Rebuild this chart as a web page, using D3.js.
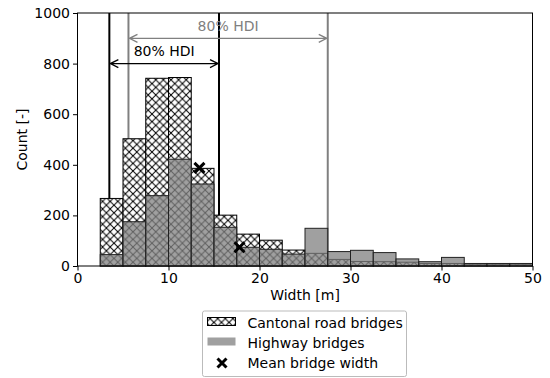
<!DOCTYPE html>
<html>
<head>
<meta charset="utf-8">
<script src="https://cdn.jsdelivr.net/npm/d3@7"></script>
<style>
  body { margin: 0; background: #fff; }
  text { font-family: "DejaVu Sans", sans-serif; }
</style>
</head>
<body>
<div id="chart"></div>
<script>
// bin starts [m], each bin is 2.5 m wide
const binStarts = [2.5, 5, 7.5, 10, 12.5, 15, 17.5, 20, 22.5, 25, 27.5, 30, 32.5, 35, 37.5, 40, 42.5, 45, 47.5]
const binWidth = 2.5
const cantonalCounts = [267, 503, 742, 745, 386, 201, 126, 102, 63, 50, 26, 18, 17, 15, 10, 10, 7, 7, 7]
const highwayCounts = [45, 175, 278, 422, 324, 153, 74, 66, 47, 149, 57, 62, 53, 28, 17, 34, 10, 10, 10]
const means = [{x: 13.4, y: 388}, {x: 17.8, y: 74}]
const hdiCantonal = [3.5, 15.55]
const hdiHighway = [5.6, 27.5]
const xTicks = [0, 10, 20, 30, 40, 50]
const yTicks = [0, 200, 400, 600, 800, 1000]
const legendLabels = ["Cantonal road bridges", "Highway bridges", "Mean bridge width"]

const width = 550
const height = 378
const margin = {left: 77.5, right: 17.5, top: 13, bottom: 112}
const fontSize = 14
const grayFill = "rgba(128,128,128,0.75)"

const svg = d3.select("#chart")
  .append("svg")
  .attr("width", width)
  .attr("height", height)

const defs = svg.append("defs")
const pattern = defs.append("pattern")
  .attr("id", "xhatch")
  .attr("patternUnits", "userSpaceOnUse")
  .attr("width", 7.6)
  .attr("height", 7.6)
pattern.append("rect").attr("width", 7.6).attr("height", 7.6).attr("fill", "#fff").attr("fill-opacity", 0.92)
pattern.append("path")
  .attr("d", "M-1,-1 L8.6,8.6 M-1,8.6 L8.6,-1")
  .attr("stroke", "#000")
  .attr("stroke-width", 1)

const xScale = d3.scaleLinear().domain([0, 50]).range([margin.left, width - margin.right])
const yScale = d3.scaleLinear().domain([0, 1000]).range([height - margin.bottom, margin.top])

const plot = svg.append("g")

// HDI lines, behind the bars
const vline = (x, color) => {
  plot.append("line")
    .attr("x1", xScale(x)).attr("x2", xScale(x))
    .attr("y1", yScale(0)).attr("y2", yScale(1000))
    .attr("stroke", color)
    .attr("stroke-width", 2)
}
hdiCantonal.forEach(x => vline(x, "#000"))
hdiHighway.forEach(x => vline(x, "#808080"))

// cantonal hatched bars
plot.selectAll(".cant")
  .data(binStarts)
  .enter()
  .append("rect")
  .attr("class", "cant")
  .attr("x", (d) => xScale(d))
  .attr("width", (d) => xScale(d + binWidth) - xScale(d))
  .attr("y", (d, i) => yScale(cantonalCounts[i]))
  .attr("height", (d, i) => yScale(0) - yScale(cantonalCounts[i]))
  .attr("fill", "url(#xhatch)")
  .attr("stroke", "#000")
  .attr("stroke-width", 1)

// highway bars on top, semi transparent
plot.selectAll(".hw")
  .data(binStarts)
  .enter()
  .append("rect")
  .attr("class", "hw")
  .attr("x", (d) => xScale(d))
  .attr("width", (d) => xScale(d + binWidth) - xScale(d))
  .attr("y", (d, i) => yScale(highwayCounts[i]))
  .attr("height", (d, i) => yScale(0) - yScale(highwayCounts[i]))
  .attr("fill", grayFill)
  .attr("stroke", "#222")
  .attr("stroke-width", 1)

const arrow = (x0, x1, yVal, color, label, labelY) => {
  const y = yScale(yVal)
  const a = xScale(x0) + 1, b = xScale(x1) - 1
  plot.append("path")
    .attr("d", `M${a},${y}L${b},${y}M${a + 8},${y - 4}L${a},${y}L${a + 8},${y + 4}M${b - 8},${y - 4}L${b},${y}L${b - 8},${y + 4}`)
    .attr("fill", "none")
    .attr("stroke", color)
    .attr("stroke-width", 1.3)
  plot.append("text")
    .attr("x", (a + b) / 2)
    .attr("y", yScale(labelY))
    .attr("text-anchor", "middle")
    .attr("font-size", fontSize)
    .attr("fill", color)
    .text(label)
}
arrow(hdiHighway[0], hdiHighway[1], 900, "#808080", "80% HDI", 928)
arrow(hdiCantonal[0], hdiCantonal[1], 800, "#000", "80% HDI", 830)

// mean markers
const cross = (g, cx, cy, s) => {
  g.append("path")
    .attr("d", `M${cx - s},${cy - s}L${cx + s},${cy + s}M${cx - s},${cy + s}L${cx + s},${cy - s}`)
    .attr("stroke", "#000")
    .attr("stroke-width", 3)
}
means.forEach(m => cross(plot, xScale(m.x), yScale(m.y), 5))

// axes
svg.append("g")
  .attr("transform", `translate(0,${yScale(0)})`)
  .call(d3.axisBottom(xScale).tickValues(xTicks).tickFormat(d3.format("d")).tickSize(4.5).tickPadding(3))
svg.append("g")
  .attr("transform", `translate(${xScale(0)},0)`)
  .call(d3.axisLeft(yScale).tickValues(yTicks).tickFormat(d3.format("d")).tickSize(4.5).tickPadding(3))
svg.selectAll(".tick text").attr("font-size", fontSize).attr("font-family", "DejaVu Sans").attr("fill", "#000")
svg.selectAll(".domain").remove()
svg.append("rect")
  .attr("x", xScale(0)).attr("y", yScale(1000))
  .attr("width", xScale(50) - xScale(0)).attr("height", yScale(0) - yScale(1000))
  .attr("fill", "none").attr("stroke", "#000").attr("stroke-width", 1)

svg.append("text")
  .attr("x", (xScale(0) + xScale(50)) / 2)
  .attr("y", 300)
  .attr("text-anchor", "middle")
  .attr("font-size", fontSize)
  .text("Width [m]")
svg.append("text")
  .attr("transform", `translate(27,${(yScale(0) + yScale(1000)) / 2}) rotate(-90)`)
  .attr("text-anchor", "middle")
  .attr("font-size", fontSize)
  .text("Count [-]")

// legend
const legend = svg.append("g").attr("transform", "translate(202.5,311)")
legend.append("rect")
  .attr("width", 204).attr("height", 65.5)
  .attr("rx", 2)
  .attr("fill", "#fff").attr("stroke", "#bbb").attr("stroke-width", 1)
legend.append("rect")
  .attr("x", 5).attr("y", 6.5).attr("width", 28).attr("height", 8)
  .attr("fill", "url(#xhatch)").attr("stroke", "#000")
legend.append("rect")
  .attr("x", 5).attr("y", 26.5).attr("width", 28).attr("height", 8)
  .attr("fill", grayFill)
cross(legend, 19.5, 52, 4.5)
legendLabels.forEach((t, i) => {
  legend.append("text")
    .attr("x", 45)
    .attr("y", 17 + i * 20)
    .attr("font-size", fontSize)
    .text(t)
})
</script>
</body>
</html>
